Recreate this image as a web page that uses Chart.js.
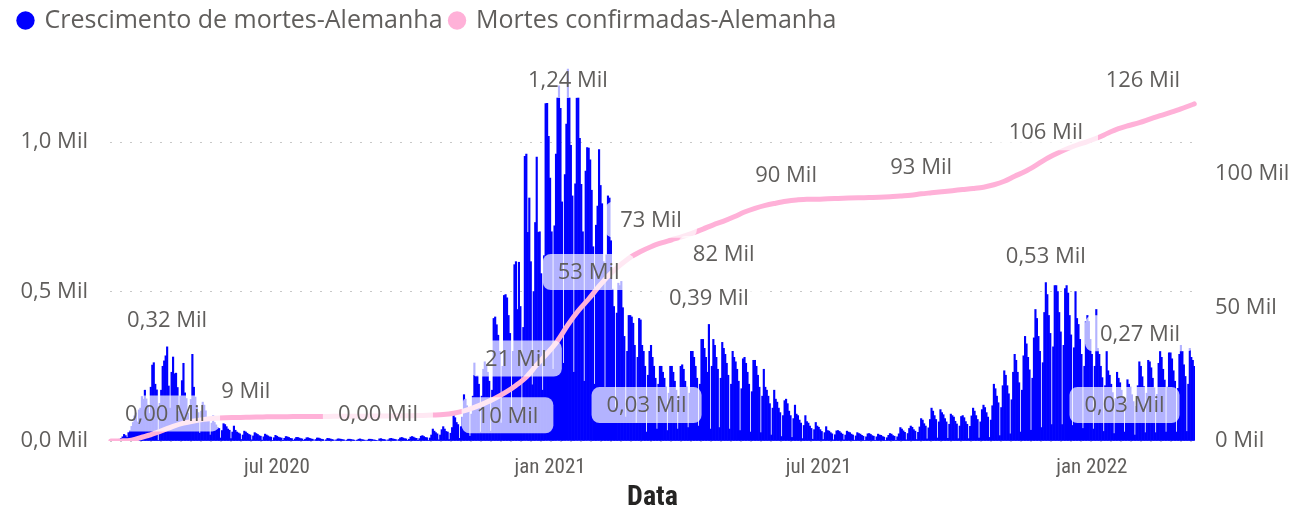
<!DOCTYPE html>
<html>
<head>
<meta charset="utf-8">
<script src="https://cdn.jsdelivr.net/npm/chart.js@4.4.0/dist/chart.umd.min.js"></script>
<style>
  html, body { margin: 0; padding: 0; background: #fff; }
  canvas { display: block; }
</style>
</head>
<body>
<canvas id="chart" width="1297" height="515"></canvas>
<script>
// daily new deaths, one value per day starting 2020-03-11 (rows are Wed..Tue)
const deaths2020 = [
  1, 2, 1, 3, 2, 4, 6,
  9, 14, 22, 18, 12, 28, 35,
  49, 62, 84, 94, 64, 104, 110,
  149, 140, 170, 141, 120, 92, 180,
  254, 262, 190, 171, 2, 126, 170,
  250, 268, 285, 315, 184, 110, 230,
  281, 225, 227, 179, 99, 150, 202,
  260, 161, 142, 94, 70, 139, 290,
  180, 147, 118, 95, 26, 100, 130,
  120, 101, 78, 70, 20, 60, 85,
  62, 54, 46, 42, 10, 35, 58,
  55, 48, 40, 36, 8, 30, 50,
  36, 30, 27, 24, 5, 20, 33,
  30, 26, 22, 20, 4, 17, 28,
  25, 22, 18, 16, 3, 14, 23,
  20, 17, 14, 13, 2, 11, 19,
  16, 13, 11, 10, 1, 9, 15,
  14, 12, 9, 8, 1, 7, 12,
  12, 10, 8, 7, 1, 6, 11,
  11, 9, 7, 6, 0, 5, 10,
  10, 8, 6, 5, 0, 4, 9,
  8, 7, 5, 4, 0, 4, 7,
  7, 6, 5, 4, 0, 3, 6,
  6, 5, 4, 3, 0, 3, 6,
  7, 5, 4, 3, 0, 3, 6,
  6, 5, 4, 3, 1, 0, 7,
  8, 6, 5, 4, 0, 4, 8,
  9, 7, 6, 5, 0, 5, 10,
  12, 10, 8, 7, 1, 6, 13,
  15, 13, 10, 9, 1, 8, 16,
  18, 15, 12, 11, 2, 10, 20,
  40, 33, 28, 24, 4, 20, 38,
  48, 40, 32, 30, 5, 26, 45,
  85, 78, 62, 55, 9, 48, 80,
  155, 140, 118, 105, 16, 90, 150,
  261, 215, 218, 190, 30, 150, 240,
  265, 251, 230, 200, 33, 170, 410,
  415, 389, 354, 300, 60, 250, 487,
  490, 479, 420, 360, 70, 300, 590,
  600, 440, 598, 450, 90, 380, 952,
  960, 698, 813, 600, 188, 500, 731,
  950, 698, 700, 560, 170, 620, 1129,
  1130, 1019
];

const deaths2021 = [
  880, 700, 240, 720, 960,
  1150, 1188, 1113, 800, 260, 891, 1060,
  1244, 1150, 989, 820, 230, 860, 1148,
  1150, 1013, 859, 700, 200, 903, 982,
  980, 941, 839, 650, 190, 722, 786,
  975, 855, 794, 600, 180, 623, 820,
  813, 670, 508, 450, 110, 428, 528,
  520, 534, 446, 350, 80, 300, 420,
  420, 415, 394, 320, 60, 280, 410,
  405, 320, 300, 250, 30, 220, 300,
  320, 280, 250, 210, 40, 190, 250,
  250, 230, 210, 180, 35, 160, 250,
  250, 230, 200, 170, 40, 150, 250,
  255, 240, 200, 180, 45, 160, 300,
  300, 280, 250, 210, 50, 190, 340,
  340, 310, 280, 230, 390, 40, 250,
  340, 320, 280, 240, 45, 210, 330,
  310, 290, 260, 220, 40, 190, 300,
  280, 265, 240, 200, 35, 175, 275,
  280, 260, 230, 190, 30, 165, 270,
  270, 250, 220, 180, 28, 150, 240,
  180, 170, 150, 125, 20, 110, 170,
  140, 130, 110, 95, 15, 85, 135,
  140, 125, 100, 85, 12, 75, 120,
  90, 85, 70, 60, 8, 52, 85,
  65, 60, 50, 42, 6, 38, 62,
  50, 46, 38, 32, 5, 28, 48,
  35, 33, 28, 24, 4, 21, 34,
  35, 32, 27, 23, 4, 20, 33,
  30, 28, 23, 20, 3, 17, 28,
  25, 23, 19, 16, 2, 14, 24,
  25, 22, 18, 16, 2, 14, 23,
  20, 19, 15, 13, 2, 11, 19,
  25, 23, 18, 16, 2, 14, 24,
  45, 40, 34, 29, 4, 25, 42,
  50, 46, 38, 33, 5, 29, 47,
  75, 70, 58, 50, 7, 44, 72,
  110, 100, 85, 72, 10, 64, 105,
  95, 88, 75, 64, 9, 56, 90,
  85, 80, 66, 57, 8, 50, 82,
  85, 78, 65, 56, 8, 49, 84,
  110, 100, 85, 72, 10, 64, 105,
  120, 112, 95, 80, 12, 70, 118,
  190, 175, 150, 128, 18, 112, 185,
  235, 220, 185, 158, 24, 138, 230,
  290, 270, 230, 195, 30, 170, 285,
  350, 325, 280, 238, 36, 210, 345,
  440, 410, 350, 300, 45, 262, 430,
  530, 490, 420, 360, 55, 315, 520,
  520, 500, 430, 365, 55, 320, 510,
  520, 495, 420, 355, 52, 312, 500,
  410, 390, 340, 290, 42, 250, 400,
  420, 400, 340
];

const deaths2022 = [
  290, 40, 250, 440,
  310, 290, 250, 212, 32, 185, 300,
  235, 220, 190, 162, 25, 142, 230,
  210, 195, 170, 145, 30, 128, 205,
  190, 180, 155, 132, 20, 116, 185,
  265, 250, 215, 182, 28, 160, 270,
  265, 245, 210, 178, 28, 156, 260,
  300, 280, 240, 204, 30, 180, 295,
  295, 275, 235, 200, 30, 176, 290,
  320, 300, 255, 216, 32, 190, 310,
  280, 270, 250
];

// confirmed deaths (thousands), read every 7 days from 2020-03-11, plus the last day
const confirmedWeekly = [
  0.0, 0.04, 0.3, 1.4, 2.6, 4.0, 5.5, 6.7, 7.5, 8.1,
  8.5, 8.7, 8.8, 8.9, 9.0, 9.05, 9.1, 9.12, 9.15, 9.18,
  9.2, 9.22, 9.25, 9.28, 9.3, 9.33, 9.36, 9.4, 9.44, 9.5,
  9.56, 9.7, 9.9, 10.4, 11.3, 12.6, 14.2, 16.0, 18.2, 20.8,
  24.0, 28.5, 32.8, 37.5, 43.5, 48.8, 53.2, 58.0, 62.3, 65.8,
  68.8, 71.0, 72.8, 74.2, 75.4, 76.6, 77.9, 79.4, 81.0, 82.4,
  84.0, 85.8, 87.2, 88.3, 89.1, 89.8, 90.3, 90.6, 90.6, 90.8,
  90.9, 91.0, 91.1, 91.2, 91.3, 91.5, 91.8, 92.1, 92.6, 93.0,
  93.4, 93.8, 94.2, 94.6, 95.1, 96.0, 97.3, 99.2, 101.0, 103.2,
  105.6, 107.6, 109.4, 110.9, 112.2, 113.6, 115.4, 117.0, 118.2, 119.3,
  120.6, 121.9, 123.1, 124.4, 125.9
];
const confirmedLast = 126.3;

const leftTicks = [0, 500, 1000];
const rightTicks = [0, 50, 100];
const tickMonths = ['2020-07', '2021-01', '2021-07', '2022-01'];
const monthNames = ['jan', 'fev', 'mar', 'abr', 'mai', 'jun', 'jul', 'ago', 'set', 'out', 'nov', 'dez'];

// which points get a data label
const barLabelDays = [32, 38, 180, 308, 361, 403, 630, 683, 699];
const lineLabelPoints = [[13, 'above'], [33, 'right'], [39, 'above'], [46, 'above'], [52, 'above'],
  [59, 'below'], [65, 'above'], [78, 'above'], [90, 'above'], [105, 'above']];

const BLUE = '#0000FF';
const PINK = '#FFB1D8';
const FONT = "'Segoe UI', 'Open Sans', sans-serif";
const NARROW = "'Roboto Condensed', Roboto, sans-serif";

const dailyDeaths = [...deaths2020, ...deaths2021, ...deaths2022];
const dates = dailyDeaths.map((_, i) => new Date(Date.UTC(2020, 2, 11 + i)).toISOString().slice(0, 10));

const confirmedPoints = confirmedWeekly.map((v, w) => ({ x: dates[w * 7], y: v }));
confirmedPoints.push({ x: dates[dates.length - 1], y: confirmedLast });

const fmtBar = v => (v / 1000).toFixed(2).replace('.', ',') + ' Mil';
const fmtLine = v => Math.round(v) + ' Mil';

const dataLabels = {
  id: 'dataLabels',
  afterDatasetsDraw(chart) {
    const ctx = chart.ctx;
    const area = chart.chartArea;
    const items = [];
    const barMeta = chart.getDatasetMeta(0);
    barLabelDays.forEach(i => {
      const el = barMeta.data[i];
      items.push({ x: el.x, y: el.y, text: fmtBar(dailyDeaths[i]), place: 'above' });
    });
    const lineMeta = chart.getDatasetMeta(1);
    lineLabelPoints.forEach(([w, place]) => {
      const el = lineMeta.data[w];
      items.push({ x: el.x, y: el.y, text: fmtLine(confirmedPoints[w].y), place });
    });

    ctx.save();
    ctx.font = '22px ' + FONT;
    ctx.textAlign = 'center';
    ctx.textBaseline = 'middle';
    items.forEach(it => {
      const w = ctx.measureText(it.text).width + 30;
      const h = 36;
      let cx = it.x, cy = it.y - 27;
      if (it.place === 'below') cy = it.y + 33;
      if (it.place === 'right') { cx = it.x + w / 2 + 8; cy = it.y + 2; }
      cx = Math.min(Math.max(cx, area.left + w / 2), area.right - w / 2);
      cy = Math.max(cy, area.top + h / 2);
      ctx.fillStyle = 'rgba(255,255,255,0.7)';
      ctx.beginPath();
      ctx.roundRect(cx - w / 2, cy - h / 2, w, h, 8);
      ctx.fill();
      ctx.fillStyle = '#605E5C';
      ctx.fillText(it.text, cx, cy + 1);
    });
    ctx.restore();
  }
};

// fixed legend height so the plot starts where the original does
const legendHeight = {
  id: 'legendHeight',
  beforeUpdate(chart) {
    const lg = chart.legend;
    if (lg && !lg._fixed) {
      const fit = lg.fit;
      lg.fit = function () { fit.call(this); this.height = 62; };
      lg._fixed = true;
    }
  }
};

new Chart(document.getElementById('chart'), {
  type: 'bar',
  data: {
    labels: dates,
    datasets: [
      {
        type: 'bar',
        label: 'Crescimento de mortes-Alemanha',
        data: dailyDeaths,
        backgroundColor: BLUE,
        borderWidth: 0,
        barPercentage: 1,
        categoryPercentage: 1,
        yAxisID: 'y',
        order: 1
      },
      {
        type: 'line',
        label: 'Mortes confirmadas-Alemanha',
        data: confirmedPoints,
        borderColor: PINK,
        backgroundColor: PINK,
        borderWidth: 5,
        pointRadius: 0,
        cubicInterpolationMode: 'monotone',
        borderCapStyle: 'round',
        yAxisID: 'y1',
        order: 0
      }
    ]
  },
  options: {
    responsive: false,
    animation: false,
    layout: { padding: { left: 11, right: 0, top: 0, bottom: 0 } },
    plugins: {
      tooltip: { enabled: false },
      legend: {
        position: 'top',
        align: 'start',
        labels: {
          usePointStyle: true,
          pointStyle: 'circle',
          boxWidth: 13,
          boxHeight: 13,
          padding: 8,
          color: '#605E5C',
          font: { family: FONT, size: 25 },
          sort: (a, b) => a.datasetIndex - b.datasetIndex,
          generateLabels: chart => Chart.defaults.plugins.legend.labels.generateLabels(chart)
            .map(l => ({ ...l, lineWidth: 0, strokeStyle: 'rgba(0,0,0,0)' }))
        }
      }
    },
    scales: {
      x: {
        grid: { display: false, drawTicks: false },
        border: { display: false },
        afterBuildTicks: scale => {
          scale.ticks = scale.ticks.filter(t => {
            const d = dates[t.value];
            return d.endsWith('-01') && tickMonths.includes(d.slice(0, 7));
          });
        },
        ticks: {
          autoSkip: false,
          maxRotation: 0,
          minRotation: 0,
          padding: 14,
          color: '#605E5C',
          font: { family: NARROW, size: 21 },
          callback: value => {
            const d = dates[value];
            return monthNames[+d.slice(5, 7) - 1] + ' ' + d.slice(0, 4);
          }
        },
        title: {
          display: true,
          text: 'Data',
          color: '#252423',
          font: { family: NARROW, size: 28, weight: 'bold' },
          padding: { top: 0, bottom: 0 }
        },
        afterFit: scale => { scale.height = 74; }
      },
      y: {
        position: 'left',
        min: 0,
        max: 1268,
        afterBuildTicks: scale => { scale.ticks = leftTicks.map(v => ({ value: v })); },
        grid: { color: '#C8C8C8', lineWidth: 1, drawTicks: false },
        border: { display: false, dash: [2, 8] },
        ticks: {
          padding: 22,
          color: '#605E5C',
          font: { family: FONT, size: 22 },
          callback: v => (v / 1000).toFixed(1).replace('.', ',') + ' Mil'
        },
        afterFit: scale => { scale.width = 99; }
      },
      y1: {
        position: 'right',
        min: 0,
        max: 142,
        afterBuildTicks: scale => { scale.ticks = rightTicks.map(v => ({ value: v })); },
        grid: { display: false, drawTicks: false },
        border: { display: false },
        ticks: {
          padding: 20,
          color: '#605E5C',
          font: { family: FONT, size: 22 },
          callback: v => v + ' Mil'
        },
        afterFit: scale => { scale.width = 102; }
      }
    }
  },
  plugins: [dataLabels, legendHeight]
});
</script>
</body>
</html>
